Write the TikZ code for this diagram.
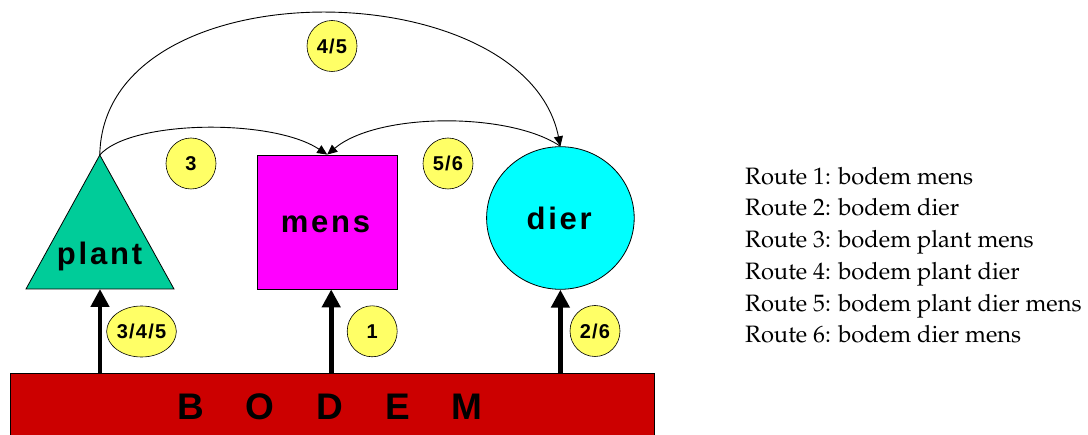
\documentclass[tikz,border=0pt]{standalone}
\usepackage[T1]{fontenc}
\usepackage{fontspec}
\usepackage{tikz}
\usetikzlibrary{arrows.meta,shapes.geometric}
\newfontfamily\lblfont[LetterSpace=9]{Liberation Sans}
\newfontfamily\numfont[LetterSpace=6]{Liberation Sans}
\newfontfamily\bodemfont[LetterSpace=113]{Liberation Sans}
\newcommand{\routefont}{\fontencoding{T1}\fontfamily{ppl}\selectfont}
\definecolor{plantgreen}{RGB}{0,204,153}
\definecolor{bodemred}{RGB}{204,0,0}
\definecolor{bubbleyellow}{RGB}{255,255,102}
\definecolor{mensmagenta}{RGB}{255,0,255}
\definecolor{diercyan}{RGB}{0,255,255}
\tikzset{
  lbl/.style={anchor=base west, inner sep=0pt,
    font=\lblfont\bfseries\fontsize{31pt}{31pt}\selectfont},
  bubble/.style={ellipse, draw=black, line width=0.6pt, fill=bubbleyellow,
    minimum width=50pt, minimum height=51pt, inner sep=0pt,
    font=\numfont\bfseries\fontsize{20pt}{20pt}\selectfont},
  link/.style={line width=0.9pt, -{Triangle[length=10pt,width=9pt]}},
  feed/.style={line width=4.7pt, -{Triangle[length=18pt,width=18pt]}},
  route/.style={anchor=base west, inner sep=0pt,
    font=\routefont\fontsize{23.7pt}{31.7pt}\selectfont}
}
\begin{document}
\begin{tikzpicture}[x=1pt, y=-1pt]
  \useasboundingbox (0,0) rectangle (1088,435);
  % bodem
  \node[draw=black, line width=1pt, fill=bodemred, minimum width=644.5pt,
    minimum height=70pt, inner sep=0pt, anchor=north west] (bodem) at (9.5,373.3) {};
  \node[anchor=base west, inner sep=0pt,
    font=\bodemfont\bfseries\fontsize{37pt}{37pt}\selectfont] (bodemtext) at (177.3,420) {BODEM};
  % plant, mens, dier
  \coordinate (plantapex) at (99.8,155);
  \coordinate (plantfoot) at (100,289);
  \draw[fill=plantgreen, line width=0.8pt] (plantapex) -- (26,289) -- (174,289) -- cycle;
  \node[draw=black, line width=0.8pt, fill=mensmagenta, minimum width=139.7pt,
    minimum height=134pt, inner sep=0pt] (mensbox) at (327.2,222) {};
  \node[ellipse, draw=black, line width=0.8pt, fill=diercyan, minimum width=147.6pt,
    minimum height=142.6pt, inner sep=0pt] (dierbox) at (560.4,218) {};
  \node[lbl] (plant) at (56.7,264.3) {plant};
  \node[lbl] (mens) at (280.7,232.7) {mens};
  \node[lbl] (dier) at (526.4,230) {dier};
  % opname uit de bodem
  \coordinate (mensfoot) at ([xshift=4pt]mensbox.south);
  \draw[feed] (plantfoot |- bodem.north) -- (plantfoot);
  \draw[feed] (mensfoot |- bodem.north) -- (mensfoot);
  \draw[feed] (dierbox.south |- bodem.north) -- (dierbox.south);
  % voedselketen
  \draw[link] (plantapex) .. controls (130,120) and (272,118) .. (mensbox.north);
  \draw[link] (plantapex) .. controls (103,-35) and (525,-30) .. (dierbox.north);
  \draw[link] (dierbox.north) .. controls (510,112) and (378,112) .. (mensbox.north);
  % routenummers
  \node[bubble] (b345) at (141.5,331.5) {3/4/5};
  \node[bubble] (b1) at (372.2,331.3) {1};
  \node[bubble] (b26) at (595,331) {2/6};
  \node[bubble] (b3) at (191,163.5) {3};
  \node[bubble] (b56) at (448,163.5) {5/6};
  \node[bubble] (b45) at (332,46) {4/5};
  % legenda
  \foreach \i/\stops in {1/bodem mens, 2/bodem dier, 3/bodem plant mens,
      4/bodem plant dier, 5/bodem plant dier mens, 6/bodem dier mens}
    \node[route] (route\i) at (745,152.6+31.7*\i) {Route \i: \stops};
\end{tikzpicture}
\end{document}
